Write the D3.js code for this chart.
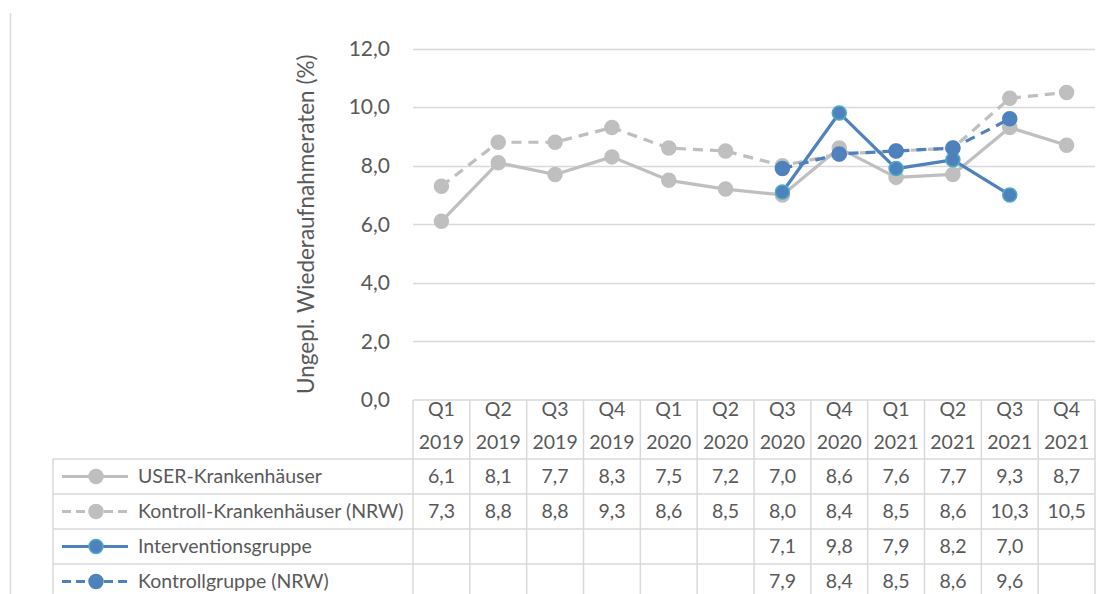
<!DOCTYPE html>
<html>
<head>
<meta charset="utf-8">
<script src="https://cdn.jsdelivr.net/npm/d3@7"></script>
<style>
  body { margin: 0; background: #fff; }
  svg { display: block; font-family: Lato, "Open Sans", sans-serif; }
</style>
</head>
<body>
<svg id="chart" width="1106" height="594"></svg>
<script>
// Daten
const quarters = ['Q1', 'Q2', 'Q3', 'Q4', 'Q1', 'Q2', 'Q3', 'Q4', 'Q1', 'Q2', 'Q3', 'Q4']
const years = ['2019', '2019', '2019', '2019', '2020', '2020', '2020', '2020', '2021', '2021', '2021', '2021']
const yTicks = [0, 2, 4, 6, 8, 10, 12]

const userKH = [6.1, 8.1, 7.7, 8.3, 7.5, 7.2, 7.0, 8.6, 7.6, 7.7, 9.3, 8.7]
const kontrollKH = [7.3, 8.8, 8.8, 9.3, 8.6, 8.5, 8.0, 8.4, 8.5, 8.6, 10.3, 10.5]
const interventionsgruppe = [null, null, null, null, null, null, 7.1, 9.8, 7.9, 8.2, 7.0, null]
const kontrollgruppe = [null, null, null, null, null, null, 7.9, 8.4, 8.5, 8.6, 9.6, null]

const seriesNames = ['USER-Krankenhäuser', 'Kontroll-Krankenhäuser (NRW)', 'Interventionsgruppe', 'Kontrollgruppe (NRW)']

const gray = '#bfbfbf'
const blue = '#4f81bd'
const teal = '#4bacc6'
const textColor = '#595959'
const gridColor = '#d9d9d9'

const series = [
  { name: seriesNames[0], values: userKH, color: gray, dash: null, marker: gray, markerStroke: gray },
  { name: seriesNames[1], values: kontrollKH, color: gray, dash: '10,7', marker: gray, markerStroke: gray },
  { name: seriesNames[2], values: interventionsgruppe, color: blue, dash: null, marker: blue, markerStroke: teal },
  { name: seriesNames[3], values: kontrollgruppe, color: blue, dash: '10,7', marker: blue, markerStroke: blue }
]

const fmt = v => d3.format('.1f')(v).replace('.', ',')

const svg = d3.select('#chart')
const fontSize = 19.5

// Skalen
const keys = quarters.map((q, i) => i)
const x = d3.scaleBand().domain(keys).range([413, 1095])
const y = d3.scaleLinear().domain([0, 12]).range([400, 48.5])

const tableLeft = 53
const headerTop = 400
const headerBottom = 459
const rowH = 35

// Rahmen links
svg.append('line')
  .attr('x1', 10.5).attr('x2', 10.5)
  .attr('y1', 13).attr('y2', 594)
  .attr('stroke', gridColor).attr('stroke-width', 1.5)

// Gitterlinien
svg.append('g')
  .selectAll('line')
  .data(yTicks.filter(t => t > 0))
  .enter()
  .append('line')
  .attr('x1', x.range()[0]).attr('x2', x.range()[1])
  .attr('y1', d => Math.round(y(d)) + 0.5)
  .attr('y2', d => Math.round(y(d)) + 0.5)
  .attr('stroke', gridColor).attr('stroke-width', 1.5)

// Y-Achse Beschriftung
svg.append('g')
  .selectAll('text')
  .data(yTicks)
  .enter()
  .append('text')
  .attr('x', 390)
  .attr('y', d => y(d))
  .attr('dy', '0.35em')
  .attr('text-anchor', 'end')
  .attr('font-size', 21)
  .attr('fill', textColor)
  .text(d => fmt(d))

svg.append('text')
  .attr('transform', `translate(314,${(y(0) + y(12)) / 2}) rotate(-90)`)
  .attr('text-anchor', 'middle')
  .attr('font-size', 22.5)
  .attr('fill', textColor)
  .text('Ungepl. Wiederaufnahmeraten (%)')

// Datentabelle
const table = svg.append('g')
const xEdges = keys.map(k => x(k)).concat([x.range()[1]])
const tableBottom = headerBottom + rowH * series.length

table.append('line')
  .attr('x1', x.range()[0]).attr('x2', x.range()[1])
  .attr('y1', headerTop).attr('y2', headerTop)
  .attr('stroke', gridColor).attr('stroke-width', 1.5)

series.forEach((s, i) => {
  const yy = headerBottom + i * rowH
  table.append('line')
    .attr('x1', tableLeft).attr('x2', x.range()[1])
    .attr('y1', yy).attr('y2', yy)
    .attr('stroke', gridColor).attr('stroke-width', 1.5)
})

table.selectAll('line.v')
  .data(xEdges)
  .enter()
  .append('line')
  .attr('class', 'v')
  .attr('x1', d => d).attr('x2', d => d)
  .attr('y1', headerTop).attr('y2', tableBottom)
  .attr('stroke', gridColor).attr('stroke-width', 1.5)

table.append('line')
  .attr('x1', tableLeft).attr('x2', tableLeft)
  .attr('y1', headerBottom).attr('y2', tableBottom)
  .attr('stroke', gridColor).attr('stroke-width', 1.5)

// Kopfzeile
const head = table.selectAll('g.head')
  .data(keys)
  .enter()
  .append('g')
  .attr('class', 'head')

head.append('text')
  .attr('x', d => x(d) + x.bandwidth() / 2)
  .attr('y', 416)
  .text(d => quarters[d])
head.append('text')
  .attr('x', d => x(d) + x.bandwidth() / 2)
  .attr('y', 449)
  .text(d => years[d])
head.selectAll('text')
  .attr('text-anchor', 'middle')
  .attr('font-size', fontSize)
  .attr('fill', textColor)

// Zeilen mit Legende
series.forEach((s, i) => {
  const cy = headerBottom + i * rowH + rowH / 2
  const row = table.append('g')

  row.append('line')
    .attr('x1', 62).attr('x2', 128)
    .attr('y1', cy).attr('y2', cy)
    .attr('stroke', s.color).attr('stroke-width', 3.2)
    .attr('stroke-dasharray', s.dash ? '9,5' : null)
  row.append('circle')
    .attr('cx', 96).attr('cy', cy).attr('r', 7)
    .attr('fill', s.marker).attr('stroke', s.markerStroke).attr('stroke-width', 1.5)
  row.append('text')
    .attr('x', 138).attr('y', cy).attr('dy', '0.35em')
    .attr('font-size', fontSize).attr('fill', textColor)
    .text(s.name)

  row.selectAll('text.val')
    .data(s.values.map((v, k) => ({ v, k })).filter(d => d.v != null))
    .enter()
    .append('text')
    .attr('class', 'val')
    .attr('x', d => x(d.k) + x.bandwidth() / 2)
    .attr('y', cy).attr('dy', '0.35em')
    .attr('text-anchor', 'middle')
    .attr('font-size', fontSize).attr('fill', textColor)
    .text(d => fmt(d.v))
})

// Linien
const line = d3.line()
  .defined(d => d.v != null)
  .x(d => x(d.k) + x.bandwidth() / 2)
  .y(d => y(d.v))

series.forEach(s => {
  const pts = s.values.map((v, k) => ({ v, k }))
  const g = svg.append('g')
  g.append('path')
    .datum(pts)
    .attr('d', line)
    .attr('fill', 'none')
    .attr('stroke', s.color)
    .attr('stroke-width', 3.2)
    .attr('stroke-linejoin', 'round')
    .attr('stroke-dasharray', s.dash)
  g.selectAll('circle')
    .data(pts.filter(d => d.v != null))
    .enter()
    .append('circle')
    .attr('cx', d => x(d.k) + x.bandwidth() / 2)
    .attr('cy', d => y(d.v))
    .attr('r', 7)
    .attr('fill', s.marker)
    .attr('stroke', s.markerStroke)
    .attr('stroke-width', 1.5)
})
</script>
</body>
</html>
